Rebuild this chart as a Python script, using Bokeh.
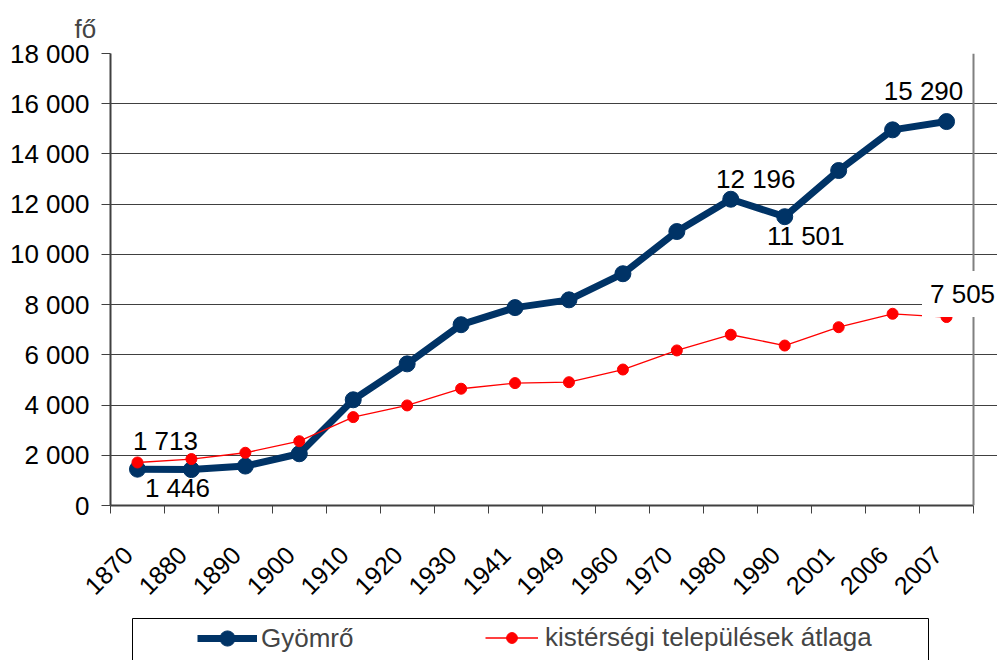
import numpy as np
from bokeh.plotting import figure
from bokeh.models import (Range1d, FixedTicker, Label, Legend, LegendItem,
                          Span, Grid, BoxAnnotation)
from bokeh.layouts import column
from bokeh.embed import file_html
from bokeh.resources import INLINE

# ---- data ----
years = ["1870", "1880", "1890", "1900", "1910", "1920", "1930", "1941",
         "1949", "1960", "1970", "1980", "1990", "2001", "2006", "2007"]
gyomro = [1446, 1430, 1570, 2060, 4210, 5640, 7200, 7880,
          8190, 9230, 10910, 12196, 11501, 13340, 14960, 15290]
atlag = [1713, 1850, 2100, 2560, 3520, 3985, 4650, 4875,
         4910, 5415, 6175, 6800, 6370, 7100, 7635, 7505]
y_ticks = [0, 2000, 4000, 6000, 8000, 10000, 12000, 14000, 16000, 18000]
y_tick_labels = ["0", "2 000", "4 000", "6 000", "8 000", "10 000",
                 "12 000", "14 000", "16 000", "18 000"]
series_names = ["Gyömrő", "kistérségi települések átlaga"]
unit_label = "fő"

# labelled points (indices)
blue_labelled = [0, 11, 12, 15]
red_labelled = [0, 15]

# ---- style ----
FONT = "Liberation Sans"
FS = "26px"
BLUE = "#003366"
RED = "#FF0000"
AX = "#404040"
CAT_W = 863 / 16.0          # px per category
EXTRA = 24 / CAT_W          # room right of the plot for the last label
LABEL_SHIFT = 0.17          # tick label shift (categories)

def fmt(v):
    return f"{v:,}".replace(",", " ")

n = len(years)
xs = [i + 0.5 for i in range(n)]
xr = Range1d(0, n + EXTRA)

p = figure(width=997, height=612, x_range=xr,
           y_range=Range1d(0, 18000), toolbar_location=None,
           output_backend="svg", min_border_left=110, min_border_right=0,
           min_border_top=53, min_border_bottom=107)
p.background_fill_color = "white"
p.border_fill_color = "white"
p.outline_line_color = None

# title used as unit label
p.title.text = unit_label
p.title.align = "left"
p.title.offset = -36
p.title.text_font = FONT
p.title.text_font_size = FS
p.title.text_font_style = "normal"
p.title.standoff = 20

# x axis
lab_ticks = [x - LABEL_SHIFT for x in xs]
p.xaxis.ticker = FixedTicker(ticks=lab_ticks, minor_ticks=list(range(n + 1)))
p.xaxis.major_label_overrides = {t: y for t, y in zip(lab_ticks, years)}
p.xaxis.bounds = (0, n)
p.xaxis.major_tick_line_color = None
p.xaxis.major_tick_out = 0
p.xaxis.major_tick_in = 0
p.xaxis.minor_tick_line_color = AX
p.xaxis.minor_tick_out = 8
p.xaxis.minor_tick_in = 0
p.xaxis.minor_tick_line_width = 1
p.xaxis.major_label_orientation = np.pi / 4
p.xaxis.major_label_standoff = 37
p.xaxis.axis_line_color = AX
p.xaxis.axis_line_width = 2
p.xaxis.major_label_text_font = FONT
p.xaxis.major_label_text_font_size = "25px"
p.xaxis.major_label_text_color = "black"

# y axis
p.yaxis.ticker = FixedTicker(ticks=y_ticks)
p.yaxis.major_label_overrides = {t: l for t, l in zip(y_ticks, y_tick_labels)}
p.yaxis.major_tick_out = 9
p.yaxis.major_tick_in = 0
p.yaxis.minor_tick_line_color = None
p.yaxis.major_tick_line_color = AX
p.yaxis.axis_line_color = AX
p.yaxis.axis_line_width = 2
p.yaxis.major_label_standoff = 12
p.yaxis.major_label_text_font = FONT
p.yaxis.major_label_text_font_size = FS
p.yaxis.major_label_text_color = "black"

p.xgrid.visible = False
p.ygrid.ticker = FixedTicker(ticks=y_ticks[:-1])
p.ygrid.grid_line_color = AX
p.ygrid.grid_line_width = 1
p.ygrid.bounds = (0, n)

# gray top and right border of the plot area
top_border = Grid(dimension=1, ticker=FixedTicker(ticks=[y_ticks[-1]]),
                  bounds=(0, n), grid_line_color="#808080", grid_line_width=2)
p.add_layout(top_border)
p.add_layout(Span(location=n, dimension="height", line_color="#808080",
                  line_width=2))

# series
blue_line = p.line(xs, gyomro, line_color=BLUE, line_width=7)
blue_pts = p.scatter(xs, gyomro, size=16, fill_color=BLUE, line_color=BLUE)
red_line = p.line(xs, atlag, line_color=RED, line_width=1.3)
red_pts = p.scatter(xs, atlag, size=11, fill_color=RED, line_color=RED)

# data labels
blue_offsets = {0: (40, -19), 11: (25, 20), 12: (21, -19), 15: (-23, 31)}
red_offsets = {0: (28, 21), 15: (16, 23)}
for i in blue_labelled:
    dx, dy = blue_offsets[i]
    p.add_layout(Label(x=xs[i], y=gyomro[i], text=fmt(gyomro[i]),
                       x_offset=dx, y_offset=dy, text_align="center",
                       text_baseline="alphabetic", text_font=FONT,
                       text_font_size=FS, text_color="black"))
for i in red_labelled:
    dx, dy = red_offsets[i]
    kw = {}
    if i == n - 1:
        kw = dict(background_fill_color="white", padding=8)
    p.add_layout(Label(x=xs[i], y=atlag[i], text=fmt(atlag[i]),
                       x_offset=dx, y_offset=dy, text_align="center",
                       text_baseline="alphabetic", text_font=FONT,
                       text_font_size=FS, text_color="black", **kw))

# ---- legend panel ----
LEG_H = 48
q = figure(width=997, height=LEG_H, x_range=xr, y_range=Range1d(0, 1),
           toolbar_location=None, output_backend="svg",
           x_axis_location=None, y_axis_location=None,
           min_border_left=110, min_border_right=0,
           min_border_top=0, min_border_bottom=0)
q.grid.visible = False
q.outline_line_color = None
q.background_fill_color = "white"
q.border_fill_color = "white"

# legend frame box (pixel layout relative to the plot area)
q.add_layout(BoxAnnotation(left=22 / CAT_W, right=818 / CAT_W,
                           top=1 - 6 / LEG_H, bottom=-1,
                           fill_alpha=0, line_color="black", line_width=1,
                           line_alpha=1))

# legend renderers (same data, outside this panel's visible range)
l1 = q.line(xs, gyomro, line_color=BLUE, line_width=7)
s1 = q.scatter(xs, gyomro, fill_color=BLUE, line_color=BLUE, size=16)
l2 = q.line(xs, atlag, line_color=RED, line_width=1.3)
s2 = q.scatter(xs, atlag, fill_color=RED, line_color=RED, size=11)

common = dict(orientation="horizontal", padding=0, spacing=0, margin=0,
              border_line_color=None, background_fill_alpha=0,
              label_text_font=FONT, label_text_font_size=FS,
              label_height=30)
leg1 = Legend(items=[LegendItem(label=series_names[0], renderers=[l1, s1])],
              location=(87, 3), glyph_width=60, glyph_height=38,
              label_standoff=4, **common)
leg2 = Legend(items=[LegendItem(label=series_names[1], renderers=[l2, s2])],
              location=(375, 7), glyph_width=53, glyph_height=27,
              label_standoff=7, **common)
q.add_layout(leg1)
q.add_layout(leg2)

layout = column(p, q, spacing=0)
open("out.html", "w").write(file_html(layout, INLINE))
